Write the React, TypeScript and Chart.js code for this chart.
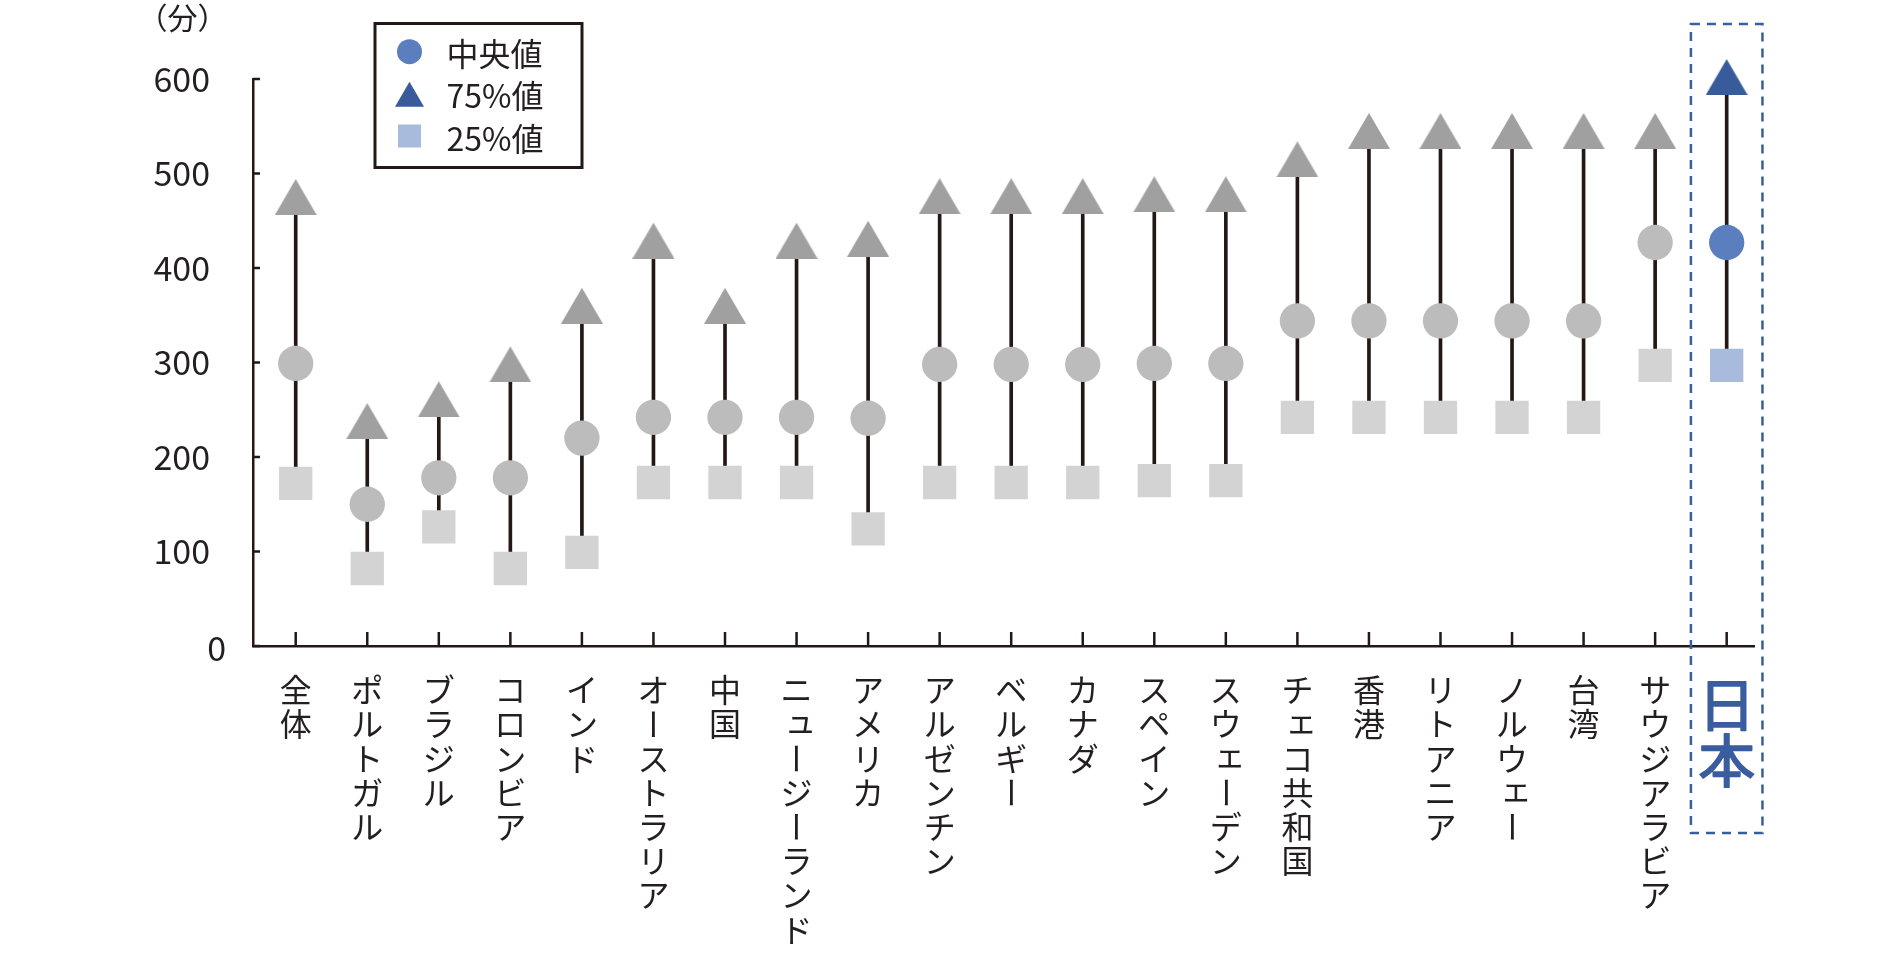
import React, { useEffect, useRef } from 'react';
import { Chart, registerables } from 'chart.js';

Chart.register(...registerables);

// ---- data ----
const categories = [
  '全体', 'ポルトガル', 'ブラジル', 'コロンビア', 'インド', 'オーストラリア', '中国',
  'ニュージーランド', 'アメリカ', 'アルゼンチン', 'ベルギー', 'カナダ', 'スペイン',
  'スウェーデン', 'チェコ共和国', '香港', 'リトアニア', 'ノルウェー', '台湾',
  'サウジアラビア', '日本',
];
const q75 = [475, 238, 261, 298, 360, 429, 360, 429, 431, 476, 476, 476, 478, 478, 515, 545, 545, 545, 545, 545, 602];
const median = [299, 150, 178, 178, 220, 242, 242, 242, 241, 298, 298, 298, 299, 299, 344, 344, 344, 344, 344, 427, 427];
const q25 = [172, 82, 126, 82, 99, 173, 173, 173, 124, 173, 173, 173, 175, 175, 242, 242, 242, 242, 242, 297, 297];
const yTickValues = [0, 100, 200, 300, 400, 500, 600];
const unitLabel = '（分）';
const legendLabels = ['中央値', '75%値', '25%値'];
const highlight = '日本';

// ---- styles ----
const W = 1896;
const H = 953;
const FONT = '"Noto Sans CJK JP", "Noto Sans", sans-serif';
const INK = '#231f20';
const AXIS = '#231815';
const GRAY_TRI = '#a0a0a0';
const GRAY_CIRCLE = '#bcbcbc';
const GRAY_SQUARE = '#d3d3d4';
const BLUE_TRI = '#375b9b';
const BLUE_CIRCLE = '#5b7fbe';
const BLUE_SQUARE = '#a8bbdd';
const BOX_BLUE = '#3a5d9f';
const SMALL_KANA = 'ァィゥェォッャュョヮ';

function makeTriangle(color: string, w: number, h: number) {
  const c = document.createElement('canvas');
  c.width = w;
  c.height = h;
  const ctx = c.getContext('2d')!;
  ctx.fillStyle = color;
  ctx.beginPath();
  ctx.moveTo(w / 2, 0);
  ctx.lineTo(w, h);
  ctx.lineTo(0, h);
  ctx.closePath();
  ctx.fill();
  return c;
}

function drawVertical(ctx: CanvasRenderingContext2D, text: string, x: number, y0: number,
  size: number, pitch: number, color: string, strokeW = 0) {
  ctx.save();
  ctx.font = `${size}px ${FONT}`;
  ctx.fillStyle = color;
  ctx.strokeStyle = color;
  ctx.lineWidth = strokeW;
  ctx.lineJoin = 'round';
  ctx.textAlign = 'center';
  ctx.textBaseline = 'middle';
  const put = (ch: string, px: number, py: number) => {
    ctx.fillText(ch, px, py);
    if (strokeW > 0) ctx.strokeText(ch, px, py);
  };
  Array.from(text).forEach((ch, k) => {
    const cy = y0 + k * pitch;
    if (ch === 'ー') {
      ctx.save();
      ctx.translate(x, cy);
      ctx.rotate(Math.PI / 2);
      put(ch, 0, 0);
      ctx.restore();
    } else if (SMALL_KANA.includes(ch)) {
      put(ch, x + size * 0.12, cy - size * 0.12);
    } else {
      put(ch, x, cy);
    }
  });
  ctx.restore();
}

const decorPlugin = {
  id: 'decor',
  afterDraw(chart: any) {
    const { ctx, chartArea, scales } = chart;
    const xs = scales.x;
    const ys = scales.y;
    ctx.save();
    // inward ticks
    ctx.strokeStyle = AXIS;
    ctx.lineWidth = 2.5;
    ctx.beginPath();
    yTickValues.forEach((v) => {
      const y = ys.getPixelForValue(v);
      ctx.moveTo(chartArea.left, y);
      ctx.lineTo(chartArea.left + 7, y);
    });
    categories.forEach((_, i) => {
      const x = xs.getPixelForValue(i);
      ctx.moveTo(x, chartArea.bottom);
      ctx.lineTo(x, chartArea.bottom - 14);
    });
    ctx.stroke();

    // the "0" tick label sits further right in the reference
    ctx.fillStyle = INK;
    ctx.font = `34px ${FONT}`;
    ctx.textAlign = 'right';
    ctx.textBaseline = 'middle';
    ctx.fillText(String(yTickValues[0]), 226, ys.getPixelForValue(0) + 2);

    // category labels (vertical writing)
    categories.forEach((name, i) => {
      const x = xs.getPixelForValue(i);
      if (name === highlight) {
        drawVertical(ctx, name, x, 704, 57, 56, BOX_BLUE, 1.6);
      } else {
        drawVertical(ctx, name, x, 690, 32, 34.2, INK);
      }
    });

    // dashed highlight box
    const hi = categories.indexOf(highlight);
    const bx0 = xs.getPixelForValue(hi - 0.5);
    const bx1 = xs.getPixelForValue(hi + 0.5);
    ctx.strokeStyle = BOX_BLUE;
    ctx.lineWidth = 2.5;
    ctx.setLineDash([9, 7]);
    ctx.strokeRect(bx0, 24, bx1 - bx0, 809);
    ctx.setLineDash([]);

    // unit label
    ctx.fillStyle = INK;
    ctx.font = `30px ${FONT}`;
    ctx.textAlign = 'center';
    ctx.textBaseline = 'middle';
    ctx.fillText(unitLabel, 182.5, 18);

    // legend
    ctx.strokeStyle = AXIS;
    ctx.lineWidth = 3;
    ctx.fillStyle = '#ffffff';
    ctx.fillRect(375, 23.5, 207, 144);
    ctx.strokeRect(375, 23.5, 207, 144);
    const mx = 409.5;
    ctx.fillStyle = BLUE_CIRCLE;
    ctx.beginPath();
    ctx.arc(mx, 51.7, 12.5, 0, Math.PI * 2);
    ctx.fill();
    ctx.fillStyle = BLUE_TRI;
    ctx.beginPath();
    ctx.moveTo(mx, 81.7);
    ctx.lineTo(mx + 14.5, 106.7);
    ctx.lineTo(mx - 14.5, 106.7);
    ctx.closePath();
    ctx.fill();
    ctx.fillStyle = BLUE_SQUARE;
    ctx.fillRect(mx - 11.5, 124.5, 23, 23);
    ctx.fillStyle = INK;
    ctx.font = `32px ${FONT}`;
    ctx.textAlign = 'left';
    ctx.textBaseline = 'middle';
    const ly = [53.5, 95.5, 138.5];
    legendLabels.forEach((t, k) => ctx.fillText(t, 446.5, ly[k]));
    ctx.restore();
  },
};

export default function App() {
  const ref = useRef<HTMLCanvasElement | null>(null);

  useEffect(() => {
    document.body.style.margin = '0';
    document.body.style.overflow = 'hidden';
    const canvas = ref.current!;
    const hi = categories.indexOf(highlight);
    const triGray = makeTriangle(GRAY_TRI, 42, 36);
    const triBlue = makeTriangle(BLUE_TRI, 42, 36);
    const pick = (a: any, b: any) => categories.map((_, i) => (i === hi ? b : a));

    const chart = new Chart(canvas, {
      type: 'scatter',
      data: {
        datasets: [
          {
            type: 'bar',
            label: 'range',
            data: categories.map((_, i) => ({ x: i, y: [q25[i], q75[i]] })) as any,
            backgroundColor: AXIS,
            borderWidth: 0,
            barThickness: 3,
            order: 10,
            clip: false as any,
          } as any,
          {
            label: legendLabels[1],
            data: categories.map((_, i) => ({ x: i, y: q75[i] })),
            pointStyle: pick(triGray, triBlue) as any,
            pointRadius: 21,
            pointBorderWidth: 0,
            order: 1,
            clip: false as any,
          },
          {
            label: legendLabels[0],
            data: categories.map((_, i) => ({ x: i, y: median[i] })),
            pointStyle: 'circle',
            pointRadius: 17.65,
            pointBackgroundColor: pick(GRAY_CIRCLE, BLUE_CIRCLE) as any,
            pointBorderWidth: 0,
            order: 1,
            clip: false as any,
          },
          {
            label: legendLabels[2],
            data: categories.map((_, i) => ({ x: i, y: q25[i] })),
            pointStyle: 'rect',
            pointRadius: 23.55,
            pointBackgroundColor: pick(GRAY_SQUARE, BLUE_SQUARE) as any,
            pointBorderWidth: 0,
            order: 1,
            clip: false as any,
          },
        ],
      },
      options: {
        animation: false,
        responsive: false,
        events: [],
        layout: { padding: { top: 79, right: W - 1754.3, bottom: 0, left: 0 } },
        plugins: { legend: { display: false }, tooltip: { enabled: false } },
        scales: {
          x: {
            type: 'linear',
            min: -0.597,
            max: 20.386,
            offset: false,
            grid: { display: false, drawTicks: false },
            border: { display: true, color: AXIS, width: 2.5 },
            ticks: { display: false },
            afterBuildTicks: (s: any) => {
              s.ticks = categories.map((_, i) => ({ value: i }));
            },
            afterFit: (s: any) => {
              s.height = H - 646;
            },
          },
          y: {
            type: 'linear',
            min: 0,
            max: 600,
            grid: { display: false, drawTicks: false },
            border: { display: true, color: AXIS, width: 2.5 },
            ticks: {
              stepSize: 100,
              padding: 43,
              color: INK,
              font: { family: FONT, size: 34 },
              callback: (v: any) => (v === 0 ? '' : String(v)),
            },
            afterBuildTicks: (s: any) => {
              s.ticks = yTickValues.map((v) => ({ value: v }));
            },
            afterFit: (s: any) => {
              s.width = 253;
            },
          },
        },
      } as any,
      plugins: [decorPlugin],
    });
    return () => chart.destroy();
  }, []);

  return (
    <div style={{ position: 'absolute', left: 0, top: 0, width: W, height: H }}>
      <canvas ref={ref} width={W} height={H} style={{ display: 'block', width: W, height: H }} />
    </div>
  );
}
